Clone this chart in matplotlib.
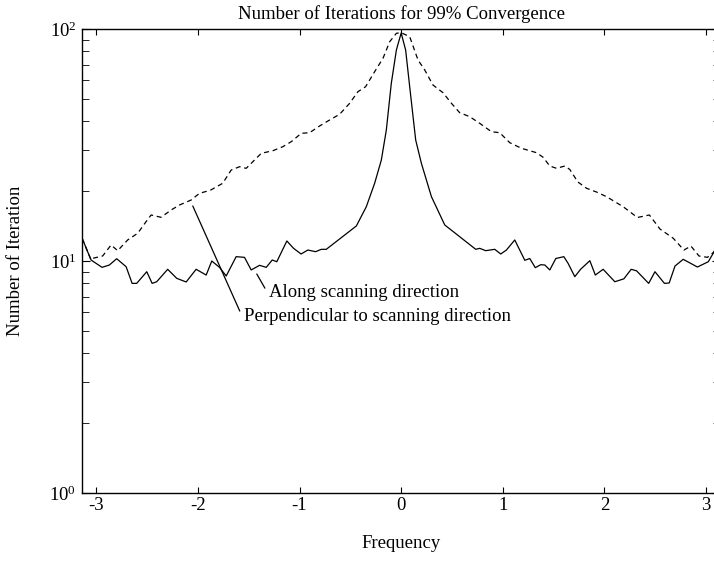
#!/usr/bin/env python3
"""
plot.py - iterations needed for 99% convergence vs. frequency,
along / perpendicular to the scanning direction (log y axis).
"""

import matplotlib
matplotlib.use('Agg')
import matplotlib.pyplot as plt
from matplotlib.ticker import LogLocator, FixedLocator

plt.rcParams['font.family'] = 'Liberation Serif'
plt.rcParams['mathtext.fontset'] = 'custom'
plt.rcParams['mathtext.rm'] = 'Liberation Serif'
plt.rcParams['axes.unicode_minus'] = False

# --- data ------------------------------------------------------------------
# solid curve: along scanning direction
along_freq = [
    -3.14, -3.052, -2.944, -2.872, -2.800, -2.707, -2.648, -2.603, -2.504, -2.451,
    -2.406, -2.298, -2.209, -2.116, -2.018, -1.919, -1.864, -1.788, -1.722, -1.624,
    -1.542, -1.476, -1.394, -1.328, -1.269, -1.224, -1.125, -1.059, -0.985, -0.918,
    -0.842, -0.786, -0.737, -0.441, -0.343, -0.261, -0.195, -0.146, -0.097, -0.047,
    0.0, 0.044, 0.084, 0.143, 0.199, 0.298, 0.429, 0.734, 0.773, 0.832,
    0.921, 0.980, 1.036, 1.118, 1.217, 1.266, 1.320, 1.374, 1.414, 1.463,
    1.522, 1.601, 1.643, 1.709, 1.766, 1.857, 1.911, 1.988, 2.103, 2.192,
    2.264, 2.317, 2.436, 2.498, 2.591, 2.638, 2.695, 2.776, 2.916, 3.023,
    3.079, 3.14,
]
along_iters = [
    12.53, 10.10, 9.39, 9.61, 10.23, 9.45, 8.01, 8.01, 8.99, 8.01,
    8.14, 9.21, 8.42, 8.12, 9.21, 8.70, 10.00, 9.39, 8.62, 10.44,
    10.37, 9.15, 9.58, 9.39, 10.10, 9.93, 12.20, 11.34, 10.72, 11.15,
    10.97, 11.23, 11.23, 14.16, 17.14, 21.63, 27.25, 36.70, 58.33, 81.21,
    96.1, 81.21, 56.40, 33.23, 26.37, 18.93, 14.30, 11.23, 11.34, 11.08,
    11.23, 10.72, 11.15, 12.32, 10.07, 10.25, 9.36, 9.64, 9.61, 9.15,
    10.25, 10.44, 9.77, 8.56, 9.21, 10.03, 8.70, 9.21, 8.14, 8.38,
    9.21, 9.07, 8.01, 8.99, 8.01, 8.04, 9.51, 10.17, 9.42, 9.93,
    10.94, 12.5,
]

# dashed curve: perpendicular to scanning direction
perp_freq = [
    -3.14, -3.052, -3.036, -2.938, -2.855, -2.790, -2.692, -2.593, -2.511, -2.461,
    -2.363, -2.264, -2.182, -2.067, -1.985, -1.879, -1.756, -1.673, -1.591, -1.525,
    -1.460, -1.377, -1.263, -1.165, -1.082, -0.983, -0.901, -0.803, -0.704, -0.606,
    -0.507, -0.426, -0.350, -0.261, -0.179, -0.113, -0.047, 0.0, 0.084, 0.166,
    0.232, 0.313, 0.412, 0.495, 0.576, 0.675, 0.773, 0.889, 0.970, 1.069,
    1.184, 1.332, 1.397, 1.463, 1.529, 1.611, 1.660, 1.739, 1.825, 1.923,
    2.022, 2.185, 2.325, 2.443, 2.547, 2.678, 2.783, 2.852, 2.931, 3.015,
    3.079, 3.14,
]
perp_iters = [
    12.53, 10.10, 10.27, 10.51, 11.72, 11.08, 12.32, 13.17, 14.77, 15.79,
    15.43, 16.59, 17.43, 18.32, 19.58, 20.17, 21.63, 24.67, 25.49, 25.09,
    26.79, 29.12, 29.88, 31.09, 32.68, 35.51, 35.73, 38.19, 40.53, 42.89,
    47.83, 53.66, 56.40, 65.45, 74.75, 88.16, 95.83, 96.4, 92.64, 73.50,
    66.58, 57.36, 53.13, 47.83, 43.58, 41.88, 39.22, 36.08, 35.73, 32.36,
    30.60, 29.30, 27.99, 25.67, 25.09, 25.67, 24.80, 21.91, 20.58, 19.83,
    18.93, 17.14, 15.40, 15.79, 13.74, 12.53, 11.15, 11.60, 10.51, 10.37,
    10.94, 12.5,
]

x_ticks = [-3, -2, -1, 0, 1, 2, 3]
x_tick_labels = ['-3', '-2', '-1', '0', '1', '2', '3']

OUT = 'out.png'
FS = 13.5


def main():
    fig = plt.figure(figsize=(7.14, 5.61), dpi=100)
    # right edge of the axes sits just outside the picture, as in the original
    ax = fig.add_axes([0.1148, 0.1212, 0.8941, 0.8271])

    ax.plot(along_freq, along_iters, color='black', lw=0.9)
    ax.plot(perp_freq, perp_iters, color='black', lw=0.9, dashes=(4.0, 3.0))

    ax.set_yscale('log')
    ax.set_xlim(-3.1416, 3.1416)
    ax.set_ylim(1, 100)

    ax.xaxis.set_major_locator(FixedLocator(x_ticks))
    ax.set_xticklabels(x_tick_labels)
    ax.yaxis.set_major_locator(LogLocator(base=10))
    ax.yaxis.set_minor_locator(LogLocator(base=10, subs=range(2, 10)))

    ax.tick_params(axis='x', which='major', direction='in', length=4,
                   top=True, labelsize=FS, pad=3)
    ax.tick_params(axis='x', which='minor', bottom=False, top=False)
    ax.tick_params(axis='y', which='both', direction='in', right=True,
                   labelsize=FS, pad=4)
    ax.tick_params(axis='y', which='major', length=6)
    ax.tick_params(axis='y', which='minor', length=5)
    for sp in ax.spines.values():
        sp.set_linewidth(1.0)

    ax.set_title('Number of Iterations for 99% Convergence', fontsize=FS, pad=7)
    ax.set_xlabel('Frequency', fontsize=FS, labelpad=15)
    ax.set_ylabel('Number of Iteration', fontsize=FS, labelpad=18)

    # leader lines end a little left of the text, near its middle
    ax.annotate('Along scanning direction', xy=(-1.421, 8.79), xytext=(-1.30, 7.35),
                fontsize=FS, ha='left', va='center',
                arrowprops=dict(arrowstyle='-', color='black', lw=0.9,
                                relpos=(0, 0.3), shrinkA=2, shrinkB=0))
    ax.annotate('Perpendicular to scanning direction', xy=(-2.051, 17.27),
                xytext=(-1.55, 5.77), fontsize=FS, ha='left', va='center',
                arrowprops=dict(arrowstyle='-', color='black', lw=0.9,
                                relpos=(0, 0.3), shrinkA=2, shrinkB=0))

    fig.savefig(OUT, dpi=100)
    plt.close(fig)
    print(f"Generated: {OUT}")


if __name__ == '__main__':
    main()
